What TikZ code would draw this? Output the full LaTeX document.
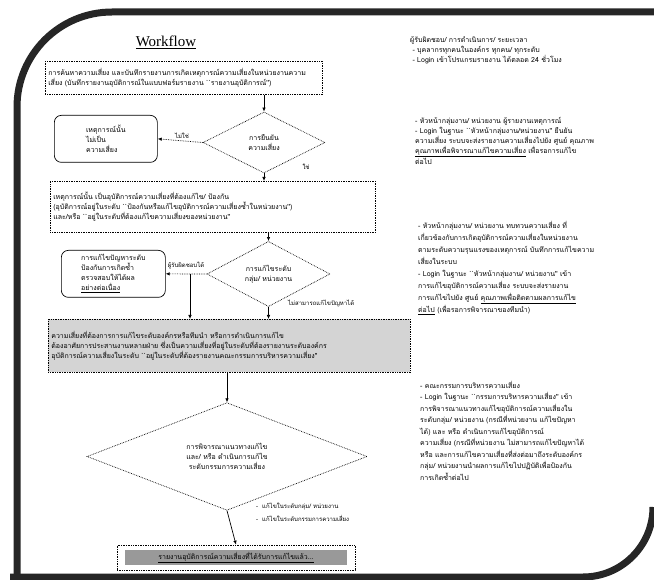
\documentclass[tikz,border=0pt]{standalone}
\usepackage{fontspec}
\setmainfont{Liberation Serif}
\newfontfamily\thaifont[Script=Thai]{Loma}
\usetikzlibrary{arrows.meta,shapes.geometric}
\tikzset{>={Latex[length=4pt,width=3.5pt]}}

\begin{document}
\begin{tikzpicture}[x=1pt, y=-1pt, font=\thaifont\fontsize{7}{10}\selectfont]

  \tikzset{box/.style={draw, densely dotted, line width=0.7pt, anchor=north west, align=left, inner sep=3pt},
           rbox/.style={draw, line width=0.7pt, rounded corners=7pt, anchor=north west, align=left, inner sep=2pt},
           dec/.style={draw, densely dotted, line width=0.7pt, diamond, inner sep=0pt, align=center},
           note/.style={anchor=north west, align=left, inner sep=0pt},
           lab/.style={inner sep=1pt, font=\thaifont\fontsize{6}{7}\selectfont},
           frame/.style={draw=black!85, line width=7pt}}

  \useasboundingbox (0,0) rectangle (654,580);

  % scanned page border
  \draw[frame, rounded corners=95pt] (17,600) -- (17,12) -- (680,12);
  \draw[frame, rounded corners=70pt] (10,577) -- (653,577) -- (653,507);

  \node[font=\fontsize{15}{15}\selectfont] (title) at (166,42) {\underline{Workflow}};

  % flow chart
  \node[box, text width=271pt, minimum height=33pt] (b1) at (45,61)
    {การค้นหาความเสี่ยง และบันทึกรายงานการเกิดเหตุการณ์ความเสี่ยงในหน่วยงานความ\\
     เสี่ยง (บันทึกรายงานอุบัติการณ์ในแบบฟอร์มรายงาน ``รายงานอุบัติการณ์'')};
  \node[dec, minimum width=122pt, minimum height=61pt] (d1) at (264,142.5) {การยืนยัน\\ความเสี่ยง};
  \node[rbox, minimum width=103pt, minimum height=47pt] (r1) at (54,115) {เหตุการณ์นั้น\\ไม่เป็น\\ความเสี่ยง};

  \node[box, text width=319pt, minimum height=51pt] (b2) at (50,181)
    {เหตุการณ์นั้น เป็นอุบัติการณ์ความเสี่ยงที่ต้องแก้ไข/ ป้องกัน\\
     (อุบัติการณ์อยู่ในระดับ ``ป้องกันหรือแก้ไขอุบัติการณ์ความเสี่ยงซ้ำในหน่วยงาน'')\\
     และ/หรือ ``อยู่ในระดับที่ต้องแก้ไขความเสี่ยงของหน่วยงาน''};
  \node[dec, minimum width=123pt, minimum height=58pt] (d2) at (268.5,274) {การแก้ไขระดับ\\กลุ่ม/ หน่วยงาน};
  \node[rbox, minimum width=104pt, minimum height=47pt] (r2) at (61,250)
    {การแก้ไขปัญหาระดับ\\ป้องกันการเกิดซ้ำ\\ตรวจสอบให้ได้ผล\\\underline{อย่างต่อเนื่อง}};

  \node[box, fill=black!17, text width=356pt, minimum height=53pt] (b3) at (48,319)
    {ความเสี่ยงที่ต้องการการแก้ไขระดับองค์กรหรือทีมนำ หรือการดำเนินการแก้ไข\\
     ต้องอาศัยการประสานงานหลายฝ่าย ซึ่งเป็นความเสี่ยงที่อยู่ในระดับที่ต้องรายงานระดับองค์กร\\
     อุบัติการณ์ความเสี่ยงในระดับ ``อยู่ในระดับที่ต้องรายงานคณะกรรมการบริหารความเสี่ยง''};
  \node[dec, minimum width=280pt, minimum height=87pt] (d3) at (227,456.5)
    {การพิจารณาแนวทางแก้ไข\\และ/ หรือ ดำเนินการแก้ไข\\ระดับกรรมการความเสี่ยง};

  \node[draw, densely dotted, line width=0.7pt, minimum width=238pt, minimum height=25pt] (fbox) at (236,557.5) {};
  \node[fill=black!40, minimum width=222pt, minimum height=15pt, inner sep=0pt] (fin) at (236,557.5)
    {\underline{รายงานอุบัติการณ์ความเสี่ยงที่ได้รับการแก้ไขแล้ว...}};

  % connectors
  \draw[->, line width=0.7pt] (b1.south -| d1.north) -- (d1.north);
  \draw[->, densely dotted, line width=0.7pt] (d1.west) -- (r1.east);
  \node[lab] (no1) at (182,136) {ไม่ใช่};
  \node[lab] (yes1) at (306,167) {ใช่};
  \draw[->, line width=0.7pt] (d1.south) -- (d1.south |- b2.north);

  \draw[->, line width=0.7pt] (b2.south -| d2.north) -- (d2.north);
  \draw[->, densely dotted, line width=0.7pt] (d2.west) -- (r2.east);
  \node[lab] (ok2) at (186,266) {ผู้รับผิดชอบได้};
  \coordinate (br) at (190,274);
  \draw[->, line width=0.7pt] (br) -- (br |- b3.north);
  \draw[->, line width=0.7pt] (d2.south) -- (d2.south |- b3.north);
  \node[lab, anchor=west] (no2) at (287,303) {ไม่สามารถแก้ไขปัญหาได้};

  \draw[->, line width=0.7pt] (b3.south -| d3.north) -- (d3.north);
  \draw[->, line width=0.7pt] (d3.south) -- (fbox.north);
  \node[lab, anchor=north west, align=left, font=\thaifont\fontsize{6}{13}\selectfont] (lv) at (255,502)
    {-\ \ แก้ไขในระดับกลุ่ม/ หน่วยงาน\\-\ \ แก้ไขในระดับกรรมการความเสี่ยง};

  % notes on the right
  \node[note] (n1) at (410,36)
    {ผู้รับผิดชอบ/ การดำเนินการ/ ระยะเวลา\\
     \ - บุคลากรทุกคนในองค์กร ทุกคน/ ทุกระดับ\\
     \ - Login เข้าโปรแกรมรายงาน ได้ตลอด 24 ชั่วโมง};
  \node[note] (n2) at (415,117)
    {- หัวหน้ากลุ่มงาน/ หน่วยงาน ผู้รายงานเหตุการณ์\\
     - Login ในฐานะ ``หัวหน้ากลุ่มงาน/หน่วยงาน'' ยืนยัน\\
     ความเสี่ยง ระบบจะส่งรายงานความเสี่ยงไปยัง ศูนย์ คุณภาพ\\
     \underline{คุณภาพเพื่อพิจารณาแก้ไขความเสี่ยง} เพื่อรอการแก้ไข\\
     ต่อไป};
  \node[note, font=\thaifont\fontsize{7}{12}\selectfont] (n3) at (418,221)
    {- หัวหน้ากลุ่มงาน/ หน่วยงาน ทบทวนความเสี่ยง ที่\\
     เกี่ยวข้องกับการเกิดอุบัติการณ์ความเสี่ยงในหน่วยงาน\\
     ตามระดับความรุนแรงของเหตุการณ์ บันทึกการแก้ไขความ\\
     เสี่ยงในระบบ\\
     - Login ในฐานะ ``หัวหน้ากลุ่มงาน/ หน่วยงาน'' เข้า\\
     การแก้ไขอุบัติการณ์ความเสี่ยง ระบบจะส่งรายงาน\\
     การแก้ไขไปยัง ศูนย์ \underline{คุณภาพเพื่อติดตามผลการแก้ไข}\\
     \underline{ต่อไป} (เพื่อรอการพิจารณาของทีมนำ)};
  \node[note, font=\thaifont\fontsize{7}{11.5}\selectfont] (n4) at (420,381)
    {- คณะกรรมการบริหารความเสี่ยง\\
     - Login ในฐานะ ``กรรมการบริหารความเสี่ยง'' เข้า\\
     การพิจารณาแนวทางแก้ไขอุบัติการณ์ความเสี่ยงใน\\
     ระดับกลุ่ม/ หน่วยงาน (กรณีที่หน่วยงาน แก้ไขปัญหา\\
     ได้) และ หรือ ดำเนินการแก้ไขอุบัติการณ์\\
     ความเสี่ยง (กรณีที่หน่วยงาน ไม่สามารถแก้ไขปัญหาได้\\
     หรือ และการแก้ไขความเสี่ยงที่ส่งต่อมาถึงระดับองค์กร\\
     กลุ่ม/ หน่วยงานนำผลการแก้ไขไปปฏิบัติเพื่อป้องกัน\\
     การเกิดซ้ำต่อไป};

\end{tikzpicture}
\end{document}
